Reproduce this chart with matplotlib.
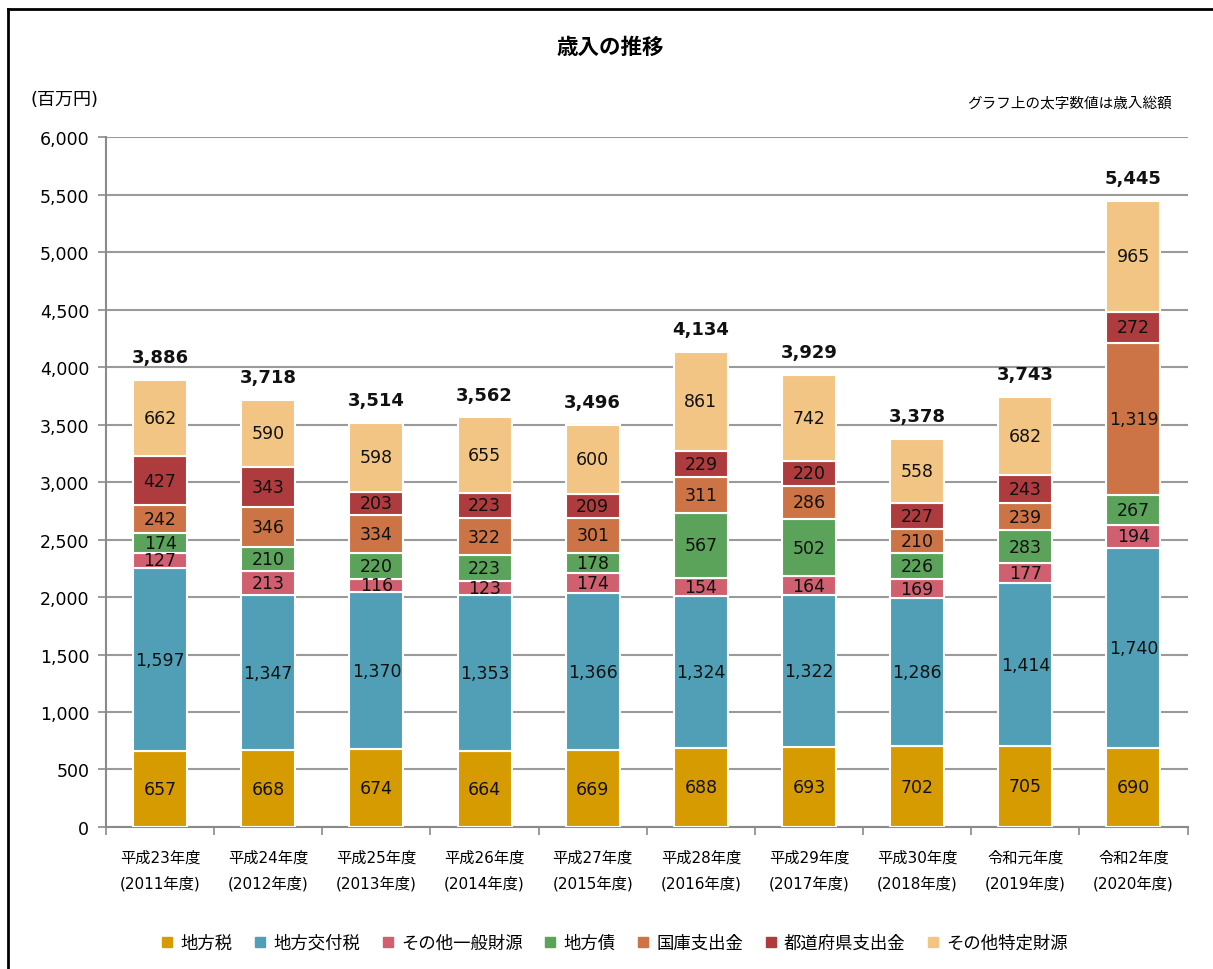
import numpy as np
import matplotlib
matplotlib.use('Agg')
import matplotlib.pyplot as plt
from matplotlib.lines import Line2D

plt.rcParams['font.family'] = ['DejaVu Sans', 'Noto Sans CJK JP']

years = ['平成23年度\n(2011年度)', '平成24年度\n(2012年度)', '平成25年度\n(2013年度)',
         '平成26年度\n(2014年度)', '平成27年度\n(2015年度)', '平成28年度\n(2016年度)',
         '平成29年度\n(2017年度)', '平成30年度\n(2018年度)', '令和元年度\n(2019年度)',
         '令和2年度\n(2020年度)']

chihouzei = [657, 668, 674, 664, 669, 688, 693, 702, 705, 690]
koufuzei = [1597, 1347, 1370, 1353, 1366, 1324, 1322, 1286, 1414, 1740]
sonota_ippan = [127, 213, 116, 123, 174, 154, 164, 169, 177, 194]
chihousai = [174, 210, 220, 223, 178, 567, 502, 226, 283, 267]
kokko = [242, 346, 334, 322, 301, 311, 286, 210, 239, 1319]
todoufuken = [427, 343, 203, 223, 209, 229, 220, 227, 243, 272]
sonota_tokutei = [662, 590, 598, 655, 600, 861, 742, 558, 682, 965]
totals = [3886, 3718, 3514, 3562, 3496, 4134, 3929, 3378, 3743, 5445]

series = [
    ('地方税', chihouzei, '#D69B00'),
    ('地方交付税', koufuzei, '#519FB6'),
    ('その他一般財源', sonota_ippan, '#D06070'),
    ('地方債', chihousai, '#5BA35B'),
    ('国庫支出金', kokko, '#CD7446'),
    ('都道府県支出金', todoufuken, '#AE3C3E'),
    ('その他特定財源', sonota_tokutei, '#F3C585'),
]

fig = plt.figure(figsize=(12.13, 9.70), dpi=100)
ax = fig.add_axes([0.0874, 0.1464, 0.8916, 0.7113])

x = np.arange(len(years))
bottom = np.zeros(len(years))
handles = []
for name, vals, color in series:
    vals = np.array(vals, dtype=float)
    ax.bar(x, vals, 0.5, bottom=bottom, color=color,
           edgecolor='white', linewidth=1.5, zorder=3)
    for xi, b, v in zip(x, bottom, vals):
        ax.text(xi, b + v / 2, f'{int(v):,}', ha='center', va='center',
                fontsize=12.5, color='#111111', zorder=4)
    bottom += vals
    handles.append(Line2D([], [], marker='s', linestyle='none',
                          markersize=7, color=color, label=name))

# totals on top of each bar
for xi, t in zip(x, totals):
    ax.text(xi, t + 120, f'{t:,}', ha='center', va='bottom',
            fontsize=13, fontweight='bold', color='#111111')

ax.set_xlim(-0.5, len(years) - 0.5)
ax.set_ylim(0, 6000)
ax.set_yticks(np.arange(0, 6001, 500))
ax.set_yticklabels([f'{v:,}' for v in range(0, 6001, 500)], fontsize=12.5)
ax.yaxis.grid(True, color='#9a9a9a', linewidth=1.5, zorder=0)
ax.set_axisbelow(True)

ax.set_xticks(x)
ax.set_xticklabels(years, fontsize=11, linespacing=1.9)
ax.tick_params(axis='x', length=0, pad=16)
ax.set_xticks(np.arange(-0.5, len(years)), minor=True)
ax.tick_params(axis='x', which='minor', length=6, color='#8a8a8a', width=1.2)
ax.tick_params(axis='y', length=6, color='#8a8a8a', width=1.2, pad=6)

for side in ['top', 'right']:
    ax.spines[side].set_visible(False)
for side in ['left', 'bottom']:
    ax.spines[side].set_color('#8a8a8a')
    ax.spines[side].set_linewidth(1.5)

fig.text(0.503, 0.951, '歳入の推移', ha='center', va='center',
         fontsize=15.5, fontweight='bold')
fig.text(0.025, 0.897, '(百万円)', ha='left', va='center', fontsize=13)
fig.text(0.966, 0.894, 'グラフ上の太字数値は歳入総額', ha='right',
         va='center', fontsize=10.5)

fig.legend(handles=handles, loc='center', ncol=7,
           bbox_to_anchor=(0.507, 0.027), frameon=False, fontsize=12.5,
           handlelength=0.6, handletextpad=0.45, columnspacing=1.3)

# frame lines along the left and top edges
fig.add_artist(Line2D([0.0062, 0.0062], [0, 0.99], transform=fig.transFigure,
                      color='black', linewidth=2))
fig.add_artist(Line2D([0.0062, 1.0], [0.99, 0.99], transform=fig.transFigure,
                      color='black', linewidth=2))

fig.savefig('out.png', dpi=100, facecolor='white')
